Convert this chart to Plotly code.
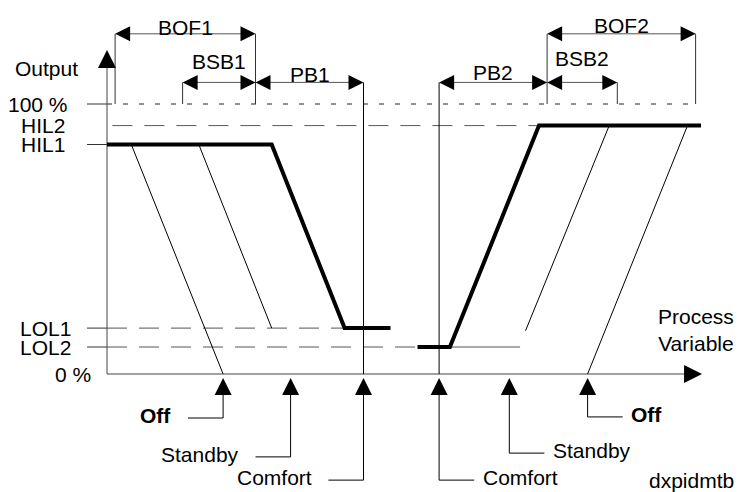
import plotly.graph_objects as go

# output levels in %
level_names = ["100 %", "HIL2", "HIL1", "LOL1", "LOL2", "0 %"]
level_values = [100, 92, 85, 17, 10, 0]

# process variable setpoints and bands (arbitrary PV units)
w_heat = 95          # comfort setpoint, heating side
pb1, bsb1, bof1 = 40, 27, 52
w_cool = 123         # comfort setpoint, cooling side
pb2, bsb2, bof2 = 40, 26, 55

# thick controller output curves
heat_pv = [0, 61, 88, 105]
heat_out = [85, 85, 17, 17]
cool_pv = [115, 127, 160, 220]
cool_out = [10, 10, 92, 92]

# thin shifted curves (standby / off)
heat_off_pv, heat_off_out = [9, 43], [85, 0]
heat_sb_pv, heat_sb_out = [34, 61], [85, 17]
cool_sb_pv, cool_sb_out = [186, 155], [92, 16]
cool_off_pv, cool_off_out = [215, 178], [92, 0]

PX = 2.7  # pixels per unit, both axes
FONT = "Liberation Sans, Arial, sans-serif"
FS = 21
DIM_HI, DIM_LO = 126, 108

fig = go.Figure()


def seg(xs, ys, color="#000", width=1, dash="solid"):
    fig.add_trace(go.Scatter(x=xs, y=ys, mode="lines", hoverinfo="skip",
                             line=dict(color=color, width=width, dash=dash)))


def head(x, y, sym, size=13, color="#000"):
    fig.add_trace(go.Scatter(x=[x], y=[y], mode="markers", hoverinfo="skip",
                             marker=dict(symbol=sym, size=size, color=color,
                                         line=dict(width=0))))


def text(x, y, s, xa="center", size=FS, bold=False):
    if bold:
        s = "<b>" + s + "</b>"
    fig.add_annotation(x=x, y=y, text=s, showarrow=False, xanchor=xa, yanchor="middle",
                       font=dict(family=FONT, size=size, color="#000"))


# reference lines
seg([-7.4, 0], [100, 100], "#333")
seg([0, w_cool + pb2 + bof2], [100, 100], "#222", 1, "5px,11px")
seg([2, 160], [92, 92], "#555", 1, "20px,12px")
for lv in [85, 17, 10]:
    seg([-7.4, 0], [lv, lv], "#333")
seg([0, 88], [17, 17], "#555", 1, "20px,12px")
seg([0, 115], [10, 10], "#555", 1, "20px,12px")
seg([127, 153], [10, 10], "#555")

# axes
seg([0, 0], [0, 116], "#444")
head(0, 120, "arrow-up", 18, "#000")
seg([0, 216], [0, 0], "#444")
head(220.4, 0, "arrow-right", 18, "#000")

# thin curves
seg(heat_off_pv, heat_off_out)
seg(heat_sb_pv, heat_sb_out)
seg(cool_sb_pv, cool_sb_out)
seg(cool_off_pv, cool_off_out)

# comfort verticals
seg([w_heat, w_heat], [0, DIM_LO], "#000")
seg([w_cool, w_cool], [0, DIM_LO], "#000")

# dimension lines: (label, start, end, level, label offset)
h1 = w_heat - pb1
c1 = w_cool + pb2
dims = [
    ("BOF1", h1 - bof1, h1, DIM_HI, 2.2),
    ("BSB1", h1 - bsb1, h1, DIM_LO, 7.6),
    ("PB1", h1, w_heat, DIM_LO, 2.8),
    ("PB2", w_cool, c1, DIM_LO, 3.8),
    ("BSB2", c1, c1 + bsb2, DIM_LO, 9.0),
    ("BOF2", c1, c1 + bof2, DIM_HI, 3.2),
]
for xe, top in [(h1 - bof1, DIM_HI), (h1, DIM_HI), (h1 - bsb1, DIM_LO),
                (c1, DIM_HI), (c1 + bsb2, DIM_LO), (c1 + bof2, DIM_HI)]:
    seg([xe, xe], [100, top], "#333")
for name, a, b, lv, off in dims:
    seg([a + 4, b - 4], [lv, lv], "#555")
    head(a, lv, "arrow-left", 15)
    head(b, lv, "arrow-right", 15)
    text((a + b) / 2, lv + off, name)

# thick output curves
seg(heat_pv, heat_out, "#000", 4)
seg(cool_pv, cool_out, "#000", 4)

# level labels
label_right = [-13.7, -14.8, -14.8, -12.6, -12.6, -5.2]
for name, lv, xr in zip(level_names, level_values, label_right):
    text(xr, lv, name, "right")
text(-10, 113.3, "Output", "right")
text(203.5, 16.2, "Process<br>Variable", "left")

# operating mode callouts: (label, pv, drop, side, bold)
callouts = [
    ("Off", w_heat - bof1, -16.3, -1, True),
    ("Standby", w_heat - bsb1, -30.7, -1, False),
    ("Comfort", w_heat, -39.3, -1, False),
    ("Comfort", w_cool, -39.3, 1, False),
    ("Standby", w_cool + bsb2, -29.3, 1, False),
    ("Off", w_cool + bof2, -15.9, 1, True),
]
for name, xp, drop, side, bold in callouts:
    head(xp, -1.5, "arrow-up", 17)
    end = xp + side * 13
    seg([xp, xp, end], [-7, drop, drop], "#000")
    if side < 0:
        text(end - 5.5, drop + 0.8, name, "right", bold=bold)
    else:
        text(end + 2.5, drop + 0.8, name, "left", bold=bold)
text(200, -39.3, "dxpidmtb", "left")

fig.update_layout(
    width=739, height=492, margin=dict(l=0, r=0, t=0, b=0),
    plot_bgcolor="white", paper_bgcolor="white", showlegend=False,
    xaxis=dict(range=[-107 / PX, 632 / PX], visible=False, fixedrange=True),
    yaxis=dict(range=[-118 / PX, 374 / PX], visible=False, fixedrange=True),
)

fig.write_html("out.html", config={"displayModeBar": False},
               post_script="document.body.style.margin='0';document.body.style.overflow='hidden';")
